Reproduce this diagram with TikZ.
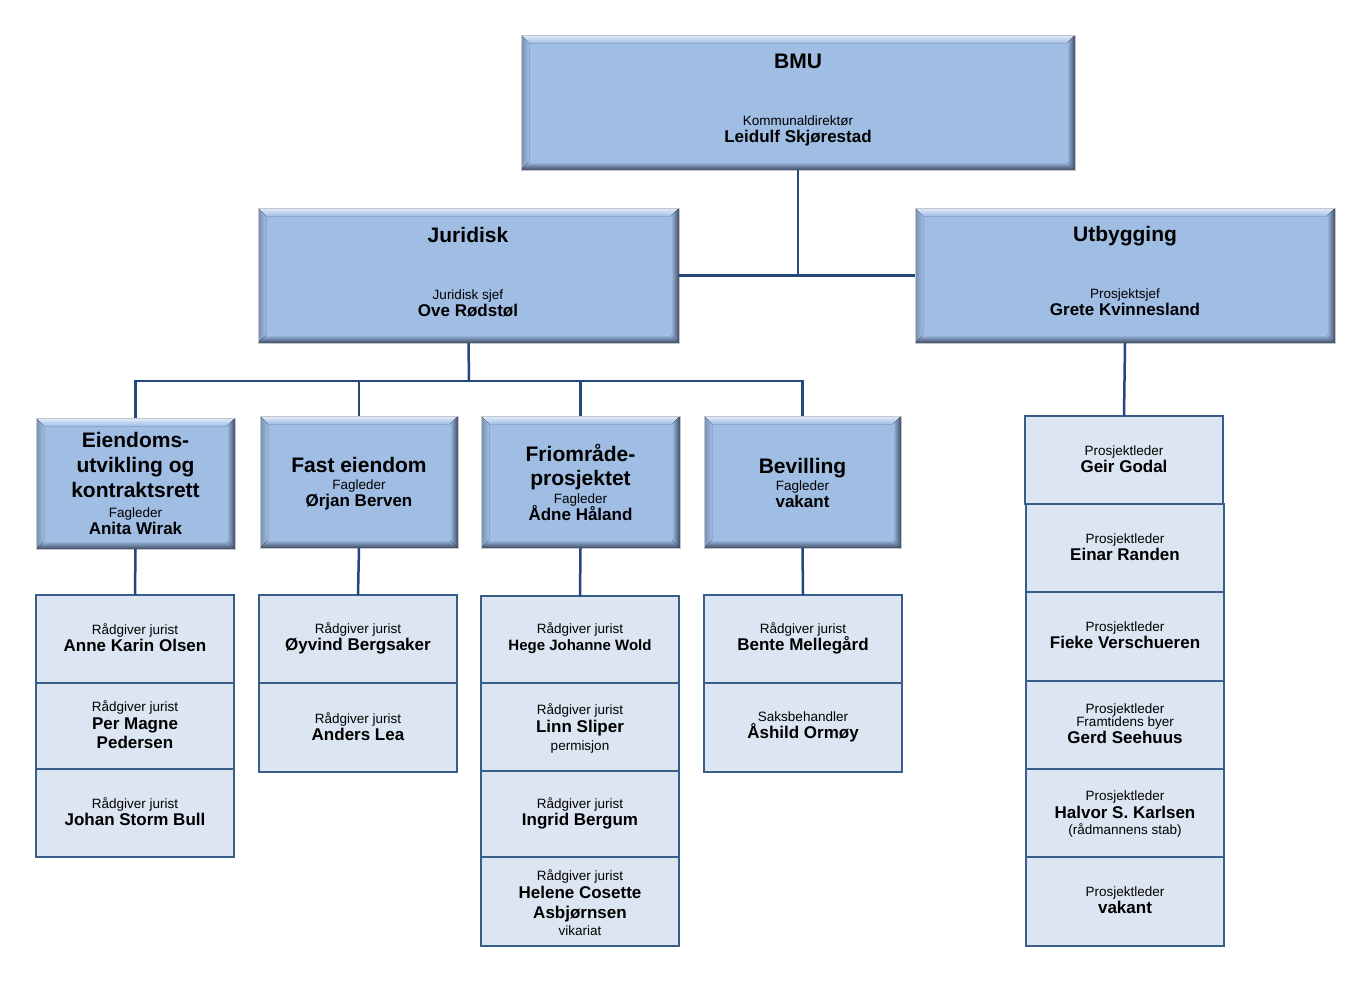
\documentclass[tikz,border=0pt]{standalone}
\usepackage{fontspec}
\setmainfont{Liberation Sans}
\usetikzlibrary{fit}
\definecolor{basefill}{RGB}{160,189,228}
\definecolor{bvtop}{RGB}{228,238,250}
\definecolor{bvleft}{RGB}{118,142,178}
\definecolor{bvright}{RGB}{62,76,102}
\definecolor{bvbot}{RGB}{62,76,102}
\definecolor{conn}{RGB}{36,72,124}
\definecolor{lfill}{RGB}{220,230,242}
\definecolor{lborder}{RGB}{58,94,140}
\newcommand\hdr[1]{{\fontsize{21}{25}\selectfont\bfseries #1}}
\newcommand\nme[1]{{\fontsize{17}{19}\selectfont\bfseries #1}}
\newcommand\nms[1]{{\fontsize{15}{18}\selectfont\bfseries #1}}
\newcommand\smallfnt{\fontsize{13.5}{17}\selectfont\setlength{\lineskiplimit}{-100pt}}
\setlength{\lineskiplimit}{-100pt}
\def\bv{8}
\newcommand\bevelbox[5]{%
  \fill[basefill] (#2,#3) rectangle (#4,#5);
  \fill[top color=bvtop, bottom color=basefill] (#2,#3) -- (#4,#3) -- (#4-\bv,#3+\bv) -- (#2+\bv,#3+\bv) -- cycle;
  \fill[left color=bvleft, right color=basefill] (#2,#3) -- (#2+\bv,#3+\bv) -- (#2+\bv,#5-\bv) -- (#2,#5) -- cycle;
  \fill[left color=basefill, right color=bvright] (#4,#3) -- (#4,#5) -- (#4-\bv,#5-\bv) -- (#4-\bv,#3+\bv) -- cycle;
  \fill[top color=basefill, bottom color=bvbot] (#2,#5) -- (#4,#5) -- (#4-\bv,#5-\bv) -- (#2+\bv,#5-\bv) -- cycle;
  \node[frame, fit={(#2,#3) (#4,#5)}] (#1) {};
}
\newcommand\lbox[7][1pt]{%
  \node[lfour, fit={(#3,#4) (#5,#6)}] (#2) {};
  \node[tx, yshift=#1] (#2t) at (#2.center) {#7};
}
\begin{document}
\begin{tikzpicture}[x=1pt,y=-1pt,
  frame/.style={draw=gray!45, line width=0.8pt, inner sep=0pt, outer sep=0pt},
  lfour/.style={draw=lborder, fill=lfill, line width=2pt, inner sep=0pt, outer sep=0pt},
  tx/.style={align=center, inner sep=0pt, font=\smallfnt},
  conn/.style={draw=conn, line width=2.5pt}]
\useasboundingbox[fill=white] (0,0) rectangle (1372,994);

% top level boxes
\bevelbox{bmu}{521}{35}{1075}{170}
\bevelbox{jur}{258}{208}{679}{343}
\bevelbox{utb}{915}{208}{1335}{343}
\bevelbox{eien}{36}{418}{235}{549}
\bevelbox{fast}{260}{416}{458}{548}
\bevelbox{frio}{481}{416}{680}{548}
\bevelbox{bev}{704}{416}{901}{548}

\node[tx] (bmut) at (798,100) {\hdr{BMU}\\[40pt]Kommunaldirektør\\\nme{Leidulf Skjørestad}};
\node[tx] (jurt) at (468,272) {\hdr{Juridisk}\\[40pt]Juridisk sjef\\\nme{Ove Rødstøl}};
\node[tx] (utbt) at (1125,271) {\hdr{Utbygging}\\[40pt]Prosjektsjef\\\nme{Grete Kvinnesland}};
\node[tx] (eient) at (135.5,483) {\hdr{Eiendoms-}\\[8pt]\hdr{utvikling og}\\[8pt]\hdr{kontraktsrett}\\[3pt]Fagleder\\\nme{Anita Wirak}};
\node[tx] (fastt) at (359,484) {\hdr{Fast eiendom}\\[0pt]Fagleder\\\nme{Ørjan Berven}};
\node[tx] (friot) at (580.5,482) {\hdr{Friområde-}\\[7pt]\hdr{prosjektet}\\[1pt]Fagleder\\\nme{Ådne Håland}};
\node[tx] (bevt) at (802.5,483) {\hdr{Bevilling}\\[0pt]Fagleder\\\nme{vakant}};

% connectors
\coordinate (hub) at (798,275);
\coordinate (jb) at (469,381);
\draw[conn] (bmu.south) -- (hub);
\draw[conn] (jur.east) -- (utb.west);
\draw[conn] (jur.south) -- (jb);
\draw[conn] (eien.north) |- (jb);
\draw[conn] (fast.north) |- (jb);
\draw[conn] (frio.north) |- (jb);
\draw[conn] (bev.north) |- (jb);

% column 1
\lbox{a1}{36}{595}{234}{683}{Rådgiver jurist\\\nme{Anne Karin Olsen}}
\lbox{a2}{36}{683}{234}{769}{Rådgiver jurist\\[1pt]\nme{Per Magne}\\[2pt]\nme{Pedersen}}
\lbox{a3}{36}{769}{234}{857}{Rådgiver jurist\\\nme{Johan Storm Bull}}
% column 2
\lbox{b1}{259}{595}{457}{683}{Rådgiver jurist\\\nme{Øyvind Bergsaker}}
\lbox{b2}{259}{683}{457}{772}{Rådgiver jurist\\\nme{Anders Lea}}
% column 3
\lbox{c1}{481}{596}{679}{683}{Rådgiver jurist\\\nms{Hege Johanne Wold}}
\lbox[-1pt]{c2}{481}{683}{679}{771}{Rådgiver jurist\\[1pt]\nme{Linn Sliper}\\[1pt]permisjon}
\lbox{c3}{481}{771}{679}{857}{Rådgiver jurist\\\nme{Ingrid Bergum}}
\lbox[-1pt]{c4}{481}{857}{679}{946}{Rådgiver jurist\\[1pt]\nme{Helene Cosette}\\[3pt]\nme{Asbjørnsen}\\[0pt]vikariat}
% column 4
\lbox{d1}{704}{595}{902}{683}{Rådgiver jurist\\\nme{Bente Mellegård}}
\lbox{d2}{704}{683}{902}{772}{Saksbehandler\\\nme{Åshild Ormøy}}
% column 5
\lbox{e1}{1025}{416}{1223}{504}{Prosjektleder\\\nme{Geir Godal}}
\lbox{e2}{1026}{504}{1224}{592}{Prosjektleder\\\nme{Einar Randen}}
\lbox{e3}{1026}{592}{1224}{681}{Prosjektleder\\\nme{Fieke Verschueren}}
\lbox{e4}{1026}{681}{1224}{769}{Prosjektleder\\[-4pt]Framtidens byer\\\nme{Gerd Seehuus}}
\lbox[-1pt]{e5}{1026}{769}{1224}{857}{Prosjektleder\\[1pt]\nme{Halvor S. Karlsen}\\[-1pt](rådmannens stab)}
\lbox{e6}{1026}{857}{1224}{946}{Prosjektleder\\\nme{vakant}}

\draw[conn] (eien.south) -- (a1.north);
\draw[conn] (fast.south) -- (b1.north);
\draw[conn] (frio.south) -- (c1.north);
\draw[conn] (bev.south) -- (d1.north);
\draw[conn] (utb.south) -- (e1.north);
\end{tikzpicture}
\end{document}
